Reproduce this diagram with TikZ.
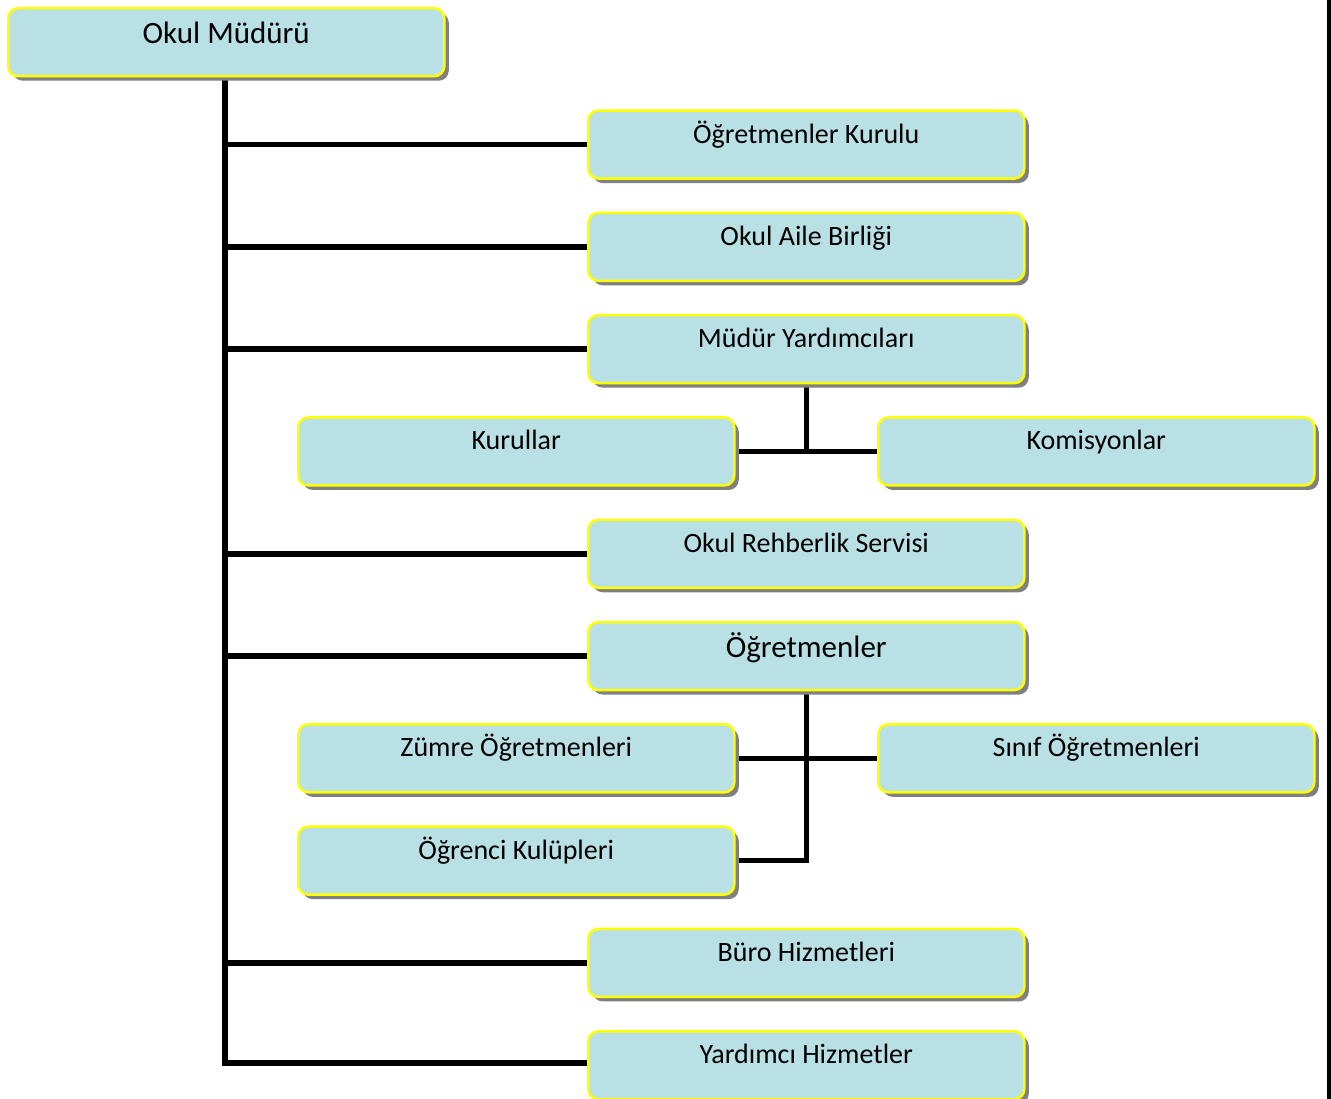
\documentclass[tikz,border=0pt]{standalone}
\usepackage{fontspec}
\setmainfont{Carlito}
\usetikzlibrary{shadows}
\pgfdeclarelayer{background}
\pgfsetlayers{background,main}
\definecolor{boxfill}{RGB}{185,224,228}
\definecolor{boxedge}{RGB}{255,255,0}
\begin{document}
\begin{tikzpicture}[x=1pt,y=-1pt,
  orgbox/.style={draw=boxedge, line width=2.5pt, fill=boxfill, rounded corners=10pt,
    minimum width=436pt, minimum height=68pt, inner sep=0pt, anchor=north west,
    text height=10pt, text depth=13pt, font=\fontsize{28}{32}\selectfont,
    drop shadow={shadow xshift=4.5pt, shadow yshift=-4.5pt, fill=black!50, opacity=1}},
  bigbox/.style={orgbox, text height=12pt, text depth=10pt, font=\fontsize{31}{35}\selectfont},
  link/.style={line width=5.5pt, black}]
\useasboundingbox (0,0) rectangle (1331,1099);

\node[bigbox] (mudur) at (7,7) {Okul Müdürü};
\node[orgbox] (kurul) at (587,109.3) {Öğretmenler Kurulu};
\node[orgbox] (aile) at (587,211.6) {Okul Aile Birliği};
\node[orgbox] (yard) at (587,313.9) {Müdür Yardımcıları};
\node[orgbox] (kurullar) at (297,416.2) {Kurullar};
\node[orgbox] (komis) at (877,416.2) {Komisyonlar};
\node[orgbox] (rehber) at (587,518.5) {Okul Rehberlik Servisi};
\node[bigbox] (ogrt) at (587,620.8) {Öğretmenler};
\node[orgbox] (zumre) at (297,723.1) {Zümre Öğretmenleri};
\node[orgbox] (sinif) at (877,723.1) {Sınıf Öğretmenleri};
\node[orgbox] (kulup) at (297,825.4) {Öğrenci Kulüpleri};
\node[orgbox] (buro) at (587,927.7) {Büro Hizmetleri};
\node[orgbox] (yhiz) at (587,1030) {Yardımcı Hizmetler};

\coordinate (trunk) at (225,1063);
\begin{pgfonlayer}{background}
\fill[white] (0,0) rectangle (1331,1099);
\fill[black] (1327,0) rectangle (1331,1099);
\draw[link] (mudur.south -| trunk) -- (trunk) -- (yhiz.west |- trunk);
\foreach \n in {kurul,aile,yard,rehber,ogrt,buro}
  \draw[link] (trunk |- \n.west) -- (\n.west);
\draw[link] (yard.south) -- (yard.south |- kurullar.east);
\draw[link] (kurullar.east) -- (komis.west);
\draw[link] (ogrt.south) -- (ogrt.south |- kulup.east) -- (kulup.east);
\draw[link] (zumre.east) -- (sinif.west);
\end{pgfonlayer}
\end{tikzpicture}
\end{document}
